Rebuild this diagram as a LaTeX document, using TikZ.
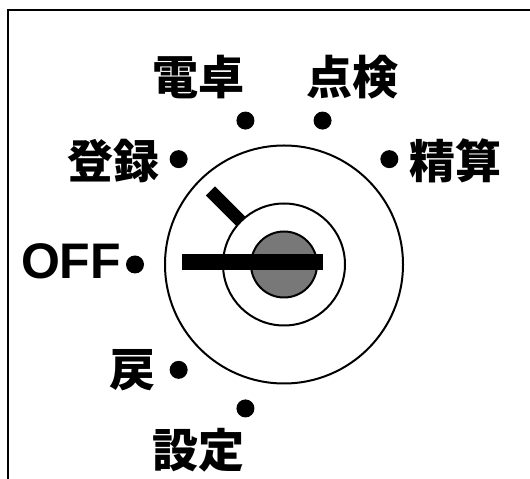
\documentclass[tikz,border=0pt]{standalone}
\usepackage{fontspec}
\newfontfamily\jp{Noto Sans CJK JP}
\newfontfamily\lat{Liberation Sans}
\usetikzlibrary{calc}
\tikzset{lab/.style={font=\jp\bfseries\fontsize{46}{46}\selectfont,inner sep=0pt},
  dot/.style={circle,fill,inner sep=0pt,minimum size=18pt}}

\begin{document}
\begin{tikzpicture}[x=1pt,y=1pt,line width=2pt]
\useasboundingbox(0,0)rectangle(530,479);
\draw(530,469)--(8,469)--(8,0);
\coordinate(c)at(284,214.5);
% key switch
\draw(c)circle(119);
\draw(c)circle(61);
\draw[fill=black!53](c)circle(33);
\fill(182,209)rectangle(322.6,225);
\draw[line width=13pt]($(c)+(135:61)$)--($(c)+(135:104)$);
% positions
\foreach \a/\n in {45/seisan,75/tenken,105/dentaku,135/touroku,180/off,225/modori,255/settei}
  \node[dot](d\n)at($(c)+(\a:149)$){};
\node[lab](dentaku)at(198,402){電卓};
\node[lab](tenken)at(352,402){点検};
\node[lab](touroku)at(113,318){登録};
\node[lab](seisan)at(455,318){精算};
\node[lab,font=\lat\bfseries\fontsize{50}{50}\selectfont](off)at(71,217.3){OFF};
\node[lab](modori)at(132,109){戻};
\node[lab](settei)at(198,29){設定};
\end{tikzpicture}
\end{document}
